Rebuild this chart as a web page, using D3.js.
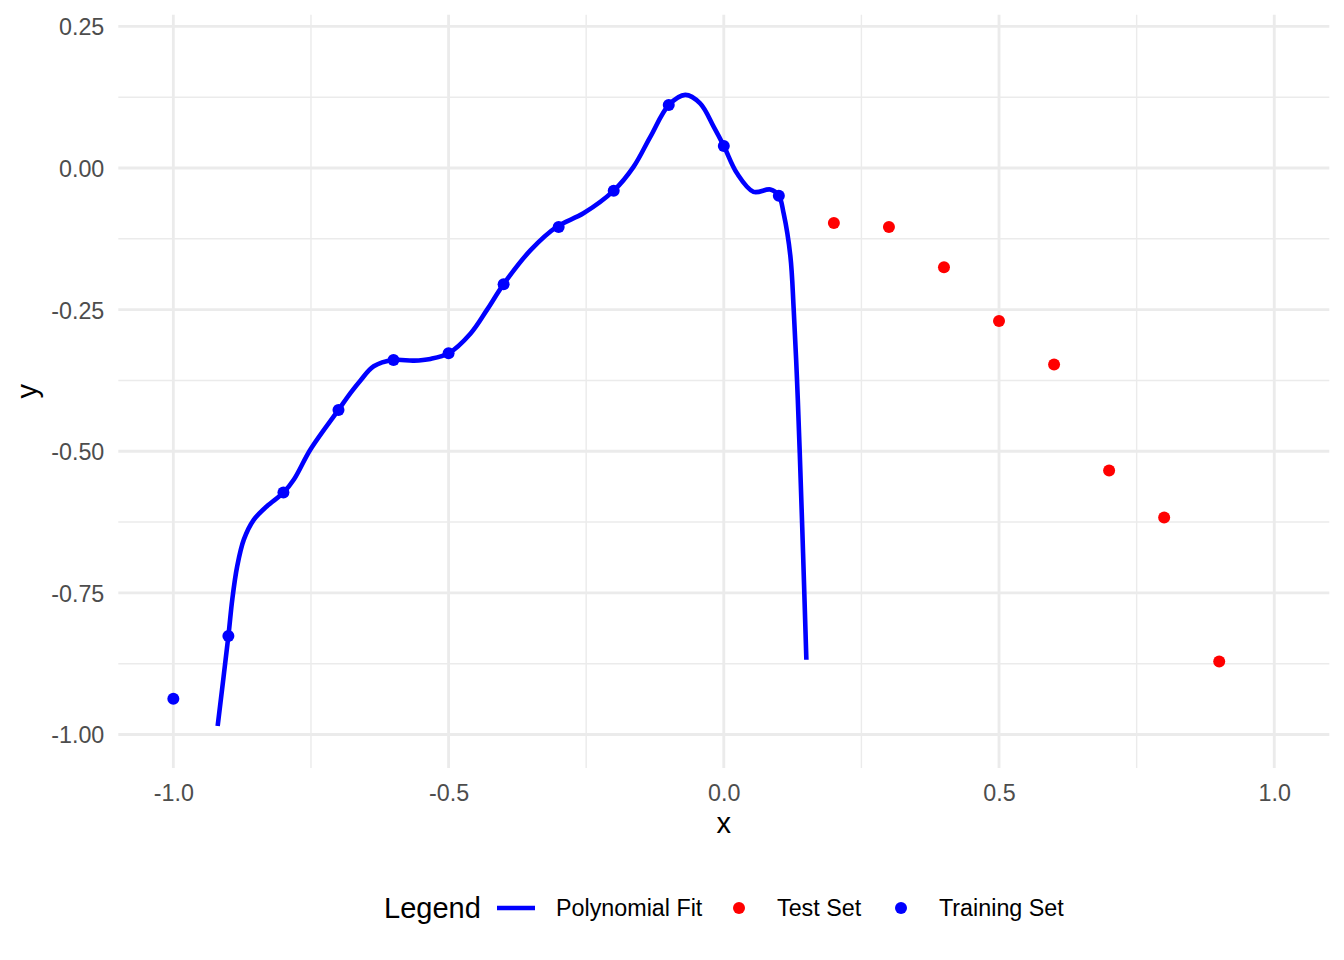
<!DOCTYPE html>
<html>
<head>
<meta charset="utf-8">
<script src="https://cdn.jsdelivr.net/npm/d3@7"></script>
<style>
  html, body { margin: 0; padding: 0; background: #ffffff; }
  svg { display: block; font-family: "Liberation Sans", Arial, Helvetica, sans-serif; }
</style>
</head>
<body>
<svg id="chart" width="1344" height="960"></svg>
<script>
// ---- Data ----
const trainX = [-1.0, -0.9, -0.8, -0.7, -0.6, -0.5, -0.4, -0.3, -0.2, -0.1, 0.0, 0.1];
const trainY = [-0.937, -0.826, -0.573, -0.427, -0.339, -0.327, -0.205, -0.104, -0.040, 0.111, 0.039, -0.049];

const testX = [0.2, 0.3, 0.4, 0.5, 0.6, 0.7, 0.8, 0.9];
const testY = [-0.097, -0.104, -0.175, -0.270, -0.347, -0.534, -0.617, -0.871];

const fitX = [-0.9195, -0.900, -0.893, -0.884, -0.872, -0.854, -0.830, -0.800, -0.781, -0.751, -0.700,
              -0.678, -0.660, -0.636, -0.600, -0.563, -0.533, -0.500, -0.460, -0.430, -0.400, -0.351, -0.303,
              -0.255, -0.200, -0.164, -0.1335, -0.100, -0.070, -0.043, -0.0185, 0.000, 0.024, 0.054,
              0.0845, 0.100, 0.1087, 0.121, 0.127, 0.133, 0.138, 0.144, 0.150];
const fitY = [-0.985, -0.826, -0.762, -0.703, -0.656, -0.621, -0.597, -0.573, -0.550, -0.497, -0.427,
              -0.397, -0.375, -0.350, -0.339, -0.340, -0.337, -0.327, -0.292, -0.250, -0.205, -0.145, -0.1035,
              -0.080, -0.040, 0.002, 0.055, 0.111, 0.129, 0.114, 0.073, 0.039, -0.0094, -0.042,
              -0.038, -0.049, -0.080, -0.156, -0.250, -0.374, -0.503, -0.680, -0.868];

const xTicks = [-1.0, -0.5, 0.0, 0.5, 1.0];
const xMinor = [-0.75, -0.25, 0.25, 0.75];
const yTicks = [0.25, 0.0, -0.25, -0.5, -0.75, -1.0];
const yMinor = [0.125, -0.125, -0.375, -0.625, -0.875];

const legendLabels = ["Polynomial Fit", "Test Set", "Training Set"];
const legendColors = ["#0000ff", "#ff0000", "#0000ff"];

// ---- Layout ----
const svg = d3.select("#chart");
const panel = { left: 118.3, right: 1329.3, top: 14.7, bottom: 768 };

const x = d3.scaleLinear().domain([-1.1, 1.1]).range([panel.left, panel.right]);
const y = d3.scaleLinear().domain([-1.0591, 0.2706]).range([panel.bottom, panel.top]);

const grid = svg.append("g");
grid.selectAll("line.xminor").data(xMinor).enter().append("line")
  .attr("x1", d => x(d)).attr("x2", d => x(d))
  .attr("y1", panel.top).attr("y2", panel.bottom)
  .attr("stroke", "#ebebeb").attr("stroke-width", 1.42);
grid.selectAll("line.yminor").data(yMinor).enter().append("line")
  .attr("y1", d => y(d)).attr("y2", d => y(d))
  .attr("x1", panel.left).attr("x2", panel.right)
  .attr("stroke", "#ebebeb").attr("stroke-width", 1.42);
grid.selectAll("line.xmajor").data(xTicks).enter().append("line")
  .attr("x1", d => x(d)).attr("x2", d => x(d))
  .attr("y1", panel.top).attr("y2", panel.bottom)
  .attr("stroke", "#ebebeb").attr("stroke-width", 2.84);
grid.selectAll("line.ymajor").data(yTicks).enter().append("line")
  .attr("y1", d => y(d)).attr("y2", d => y(d))
  .attr("x1", panel.left).attr("x2", panel.right)
  .attr("stroke", "#ebebeb").attr("stroke-width", 2.84);

const FS = 23.3;
const xAxis = d3.axisBottom(x).tickValues(xTicks).tickFormat(d3.format(".1f")).tickSize(0).tickPadding(0);
const gx = svg.append("g").attr("transform", `translate(0,${panel.bottom + 16})`).call(xAxis);
gx.select(".domain").remove();
gx.selectAll("text").attr("font-size", FS).attr("fill", "#4d4d4d")
  .attr("font-family", "Liberation Sans, Arial, sans-serif")
  .attr("dy", "0.71em").text(d => d3.format(".1f")(d).replace("−", "-"));

const yAxis = d3.axisLeft(y).tickValues(yTicks).tickFormat(d3.format(".2f")).tickSize(0).tickPadding(0);
const gy = svg.append("g").attr("transform", `translate(${panel.left - 14},0)`).call(yAxis);
gy.select(".domain").remove();
gy.selectAll("text").attr("font-size", FS).attr("fill", "#4d4d4d")
  .attr("font-family", "Liberation Sans, Arial, sans-serif")
  .attr("dy", "0.36em").text(d => d3.format(".2f")(d).replace("−", "-"));

svg.append("text").attr("x", (panel.left + panel.right) / 2).attr("y", 833)
  .attr("text-anchor", "middle").attr("font-size", 29).attr("fill", "#000").text("x");
svg.append("text").attr("transform", `translate(37,${(panel.top + panel.bottom) / 2}) rotate(-90)`)
  .attr("text-anchor", "middle").attr("font-size", 29).attr("fill", "#000").text("y");

const fitData = fitX.map((d, i) => [d, fitY[i]]);
svg.append("path").datum(fitData)
  .attr("fill", "none").attr("stroke", "#0000ff").attr("stroke-width", 4.6)
  .attr("stroke-linejoin", "round")
  .attr("d", d3.line().x(d => x(d[0])).y(d => y(d[1])).curve(d3.curveCatmullRom.alpha(0.5)));

svg.append("g").selectAll("circle").data(testX.map((d, i) => [d, testY[i]])).enter().append("circle")
  .attr("cx", d => x(d[0])).attr("cy", d => y(d[1])).attr("r", 6).attr("fill", "#ff0000");
svg.append("g").selectAll("circle").data(trainX.map((d, i) => [d, trainY[i]])).enter().append("circle")
  .attr("cx", d => x(d[0])).attr("cy", d => y(d[1])).attr("r", 6).attr("fill", "#0000ff");

const lg = svg.append("g");
lg.append("text").attr("x", 384).attr("y", 918).attr("font-size", 29).attr("fill", "#000").text("Legend");
const keyX = [516, 739, 901];
const labX = [556, 777, 939];
legendLabels.forEach((lab, i) => {
  if (i === 0) {
    lg.append("line").attr("x1", keyX[i] - 19).attr("x2", keyX[i] + 19)
      .attr("y1", 908).attr("y2", 908).attr("stroke", legendColors[i]).attr("stroke-width", 4.6);
  } else {
    lg.append("circle").attr("cx", keyX[i]).attr("cy", 908).attr("r", 6).attr("fill", legendColors[i]);
  }
  lg.append("text").attr("x", labX[i]).attr("y", 916).attr("font-size", FS).attr("fill", "#000").text(lab);
});
</script>
</body>
</html>
